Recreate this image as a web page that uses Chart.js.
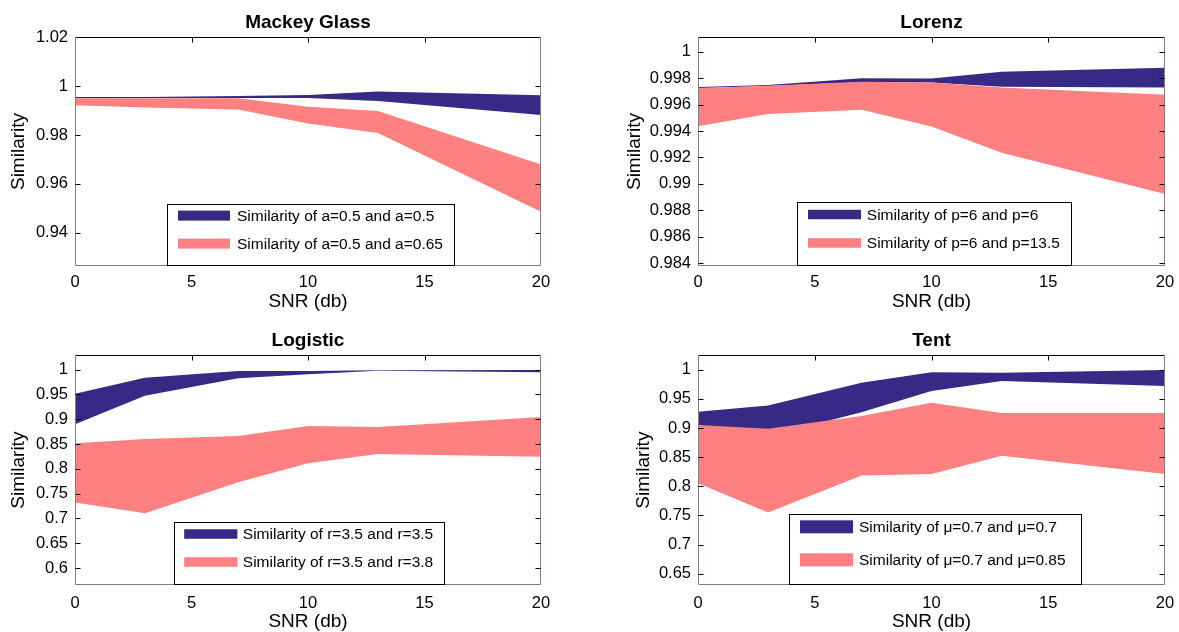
<!DOCTYPE html>
<html>
<head>
<meta charset="utf-8">
<script src="https://cdn.jsdelivr.net/npm/chart.js@4.4.0/dist/chart.umd.min.js"></script>
<style>
  html, body { margin: 0; padding: 0; background: #ffffff; }
  body { width: 1179px; height: 632px; overflow: hidden; position: relative; }
  canvas { position: absolute; }
</style>
</head>
<body>
<canvas id="mackey" width="616" height="316" style="left:0px;top:0px"></canvas>
<canvas id="lorenz" width="663" height="316" style="left:600px;top:0px"></canvas>
<canvas id="logistic" width="616" height="318" style="left:0px;top:316px"></canvas>
<canvas id="tent" width="663" height="318" style="left:600px;top:316px"></canvas>
<script>
// ---------------- data ----------------
const snr = [0, 3, 7, 10, 13, 20];
const xTickValues = [0, 5, 10, 15, 20];

const mackeyBlueUpper = [0.9955, 0.9955, 0.9959, 0.9963, 0.9977, 0.9962];
const mackeyBlueLower = [0.9950, 0.9950, 0.9951, 0.9951, 0.9939, 0.9882];
const mackeyPinkUpper = [0.9950, 0.9949, 0.9950, 0.9915, 0.9898, 0.9679];
const mackeyPinkLower = [0.9921, 0.9912, 0.9904, 0.9847, 0.9808, 0.9486];
const mackeyYTicks = [0.94, 0.96, 0.98, 1, 1.02];
const mackeyYRange = [0.9265, 1.02];
const mackeyLabels = ['Similarity of a=0.5 and a=0.5', 'Similarity of a=0.5 and a=0.65'];

const lorenzBlueUpper = [0.99732, 0.99747, 0.99799, 0.99797, 0.99847, 0.99877];
const lorenzBlueLower = [0.99724, 0.99739, 0.99769, 0.99767, 0.99734, 0.99729];
const lorenzPinkUpper = [0.99722, 0.99742, 0.99772, 0.99767, 0.99729, 0.99674];
const lorenzPinkLower = [0.99436, 0.99529, 0.99561, 0.99433, 0.99235, 0.98924];
const lorenzYTicks = [0.984, 0.986, 0.988, 0.99, 0.992, 0.994, 0.996, 0.998, 1];
const lorenzYRange = [0.9838, 1.0011];
const lorenzLabels = ['Similarity of p=6 and p=6', 'Similarity of p=6 and p=13.5'];

const logisticBlueUpper = [0.9516, 0.9839, 0.9973, 0.9973, 0.9987, 0.9993];
const logisticBlueLower = [0.8898, 0.9476, 0.9825, 0.9906, 0.9980, 0.9946];
const logisticPinkUpper = [0.8515, 0.8602, 0.8663, 0.8864, 0.8844, 0.9046];
const logisticPinkLower = [0.7319, 0.7103, 0.7728, 0.8112, 0.8300, 0.8246];
const logisticYTicks = [0.6, 0.65, 0.7, 0.75, 0.8, 0.85, 0.9, 0.95, 1];
const logisticYRange = [0.5651, 1.0296];
const logisticLabels = ['Similarity of r=3.5 and r=3.5', 'Similarity of r=3.5 and r=3.8'];

const tentBlueUpper = [0.9280, 0.9384, 0.9778, 0.9954, 0.9949, 0.9994];
const tentBlueLower = [0.9050, 0.8860, 0.9270, 0.9635, 0.9806, 0.9720];
const tentPinkUpper = [0.9050, 0.8985, 0.9207, 0.9435, 0.9258, 0.9258];
const tentPinkLower = [0.8054, 0.7551, 0.8185, 0.8213, 0.8522, 0.8213];
const tentYTicks = [0.65, 0.7, 0.75, 0.8, 0.85, 0.9, 0.95, 1];
const tentYRange = [0.6302, 1.0252];
const tentLabels = ['Similarity of \u03bc=0.7 and \u03bc=0.7', 'Similarity of \u03bc=0.7 and \u03bc=0.85'];

// ---------------- style ----------------
const BLUE = 'rgb(54,42,134)';
const PINK = 'rgb(255,128,128)';
const FONT = "'Liberation Sans', Arial, Helvetica, sans-serif";
const SIDE = '#8a7884';

function pts(ys) { return snr.map((x, i) => ({ x: x, y: ys[i] })); }

const framePlugin = {
  id: 'frameAndLegend',
  afterDraw(chart, args, opts) {
    const ctx = chart.ctx;
    const { left, right, top, bottom } = chart.chartArea;
    const xs = chart.scales.x, ys = chart.scales.y;
    ctx.save();
    ctx.lineWidth = 1;
    const line = (x1, y1, x2, y2, c) => {
      ctx.strokeStyle = c; ctx.beginPath(); ctx.moveTo(x1, y1); ctx.lineTo(x2, y2); ctx.stroke();
    };
    const L = Math.round(left) + 0.5, R = Math.round(right) - 0.5;
    const T = Math.round(top) + 0.5, B = Math.round(bottom) - 0.5;
    line(L, T, R, T, '#000');
    line(R, T, R, B, SIDE);
    line(L, B, R, B, SIDE);
    line(L, T, L, B, SIDE);
    const tl = 5;
    xTickValues.forEach(v => {
      const px = Math.round(xs.getPixelForValue(v)) + 0.5;
      if (px > L + 1 && px < R - 1) {
        line(px, T, px, T + tl, '#000');
        line(px, B, px, B - tl, SIDE);
      }
    });
    ys.ticks.forEach(t => {
      const py = Math.round(ys.getPixelForValue(t.value)) + 0.5;
      if (py > T + 1 && py < B - 1) {
        line(L, py, L + tl, py, '#000');
        line(R, py, R - tl, py, '#000');
      }
    });
    // legend
    const lg = opts;
    if (lg && lg.labels) {
      const bx0 = Math.round(left + lg.left) + 0.5, bx1 = Math.round(left + lg.right) + 0.5;
      const by0 = Math.round(bottom - lg.height) + 0.5, by1 = Math.round(bottom) - 0.5;
      ctx.fillStyle = '#fff';
      ctx.fillRect(bx0, by0, bx1 - bx0, by1 - by0);
      ctx.strokeStyle = '#000';
      ctx.strokeRect(bx0, by0, bx1 - bx0, by1 - by0);
      const colors = [BLUE, PINK];
      ctx.font = lg.fontSize + 'px ' + FONT;
      ctx.textBaseline = 'middle';
      ctx.textAlign = 'left';
      lg.labels.forEach((txt, i) => {
        const cy = bottom - lg.rows[i];
        ctx.fillStyle = colors[i];
        ctx.fillRect(left + lg.swX, cy - lg.swH / 2, lg.swW, lg.swH);
        ctx.fillStyle = '#000';
        ctx.fillText(txt, left + lg.textX, cy + 1);
      });
    }
    ctx.restore();
  }
};

function makeChart(id, cfg) {
  const ds = [
    { label: cfg.labels[1], data: pts(cfg.pinkUpper), fill: '+1', backgroundColor: PINK },
    { label: cfg.labels[1] + ' (lower)', data: pts(cfg.pinkLower), fill: false, backgroundColor: PINK },
    { label: cfg.labels[0], data: pts(cfg.blueUpper), fill: '+1', backgroundColor: BLUE },
    { label: cfg.labels[0] + ' (lower)', data: pts(cfg.blueLower), fill: false, backgroundColor: BLUE }
  ].map(d => Object.assign(d, {
    borderColor: 'rgba(0,0,0,0)', borderWidth: 1, pointRadius: 0, pointHoverRadius: 0, tension: 0
  }));

  return new Chart(document.getElementById(id), {
    type: 'line',
    data: { datasets: ds },
    options: {
      responsive: false,
      animation: false,
      events: [],
      layout: { padding: { left: cfg.padLeft, right: cfg.padRight, top: 0, bottom: 0 } },
      plugins: {
        legend: { display: false },
        tooltip: { enabled: false },
        title: {
          display: true, text: cfg.title, color: '#000', fullSize: false,
          font: { family: FONT, size: 19, weight: 'bold' },
          padding: { top: cfg.titleTop, bottom: cfg.titleBottom }
        },
        frameAndLegend: cfg.legend
      },
      scales: {
        x: {
          type: 'linear', min: 0, max: 20,
          afterBuildTicks: s => { s.ticks = xTickValues.map(v => ({ value: v })); },
          afterFit: s => { s.height = cfg.xHeight; },
          grid: { display: false, drawTicks: false },
          border: { display: false },
          ticks: { color: '#000', font: { family: FONT, size: 16.5 }, padding: cfg.xTickPad, maxRotation: 0 },
          title: { display: true, text: 'SNR (db)', color: '#000', font: { family: FONT, size: 19 }, padding: { top: 0, bottom: cfg.xTitleBottom } }
        },
        y: {
          type: 'linear', min: cfg.yRange[0], max: cfg.yRange[1],
          afterBuildTicks: s => { s.ticks = cfg.yTicks.map(v => ({ value: v })); },
          afterFit: s => { s.width = cfg.yWidth; },
          grid: { display: false, drawTicks: false },
          border: { display: false },
          ticks: {
            color: '#000', font: { family: FONT, size: 16.5 }, padding: 7,
            callback: v => String(parseFloat(Number(v).toFixed(4)))
          },
          title: { display: true, text: 'Similarity', color: '#000', font: { family: FONT, size: 19 }, padding: { top: 0, bottom: 0 } }
        }
      }
    },
    plugins: [framePlugin]
  });
}

const topRow = { titleTop: 11.3, titleBottom: 2.9, xHeight: 50, xTickPad: 7, xTitleBottom: 2.9 };
const botRow = { titleTop: 13.3, titleBottom: 2.9, xHeight: 48.7, xTickPad: 7.8, xTitleBottom: 0.9 };

makeChart('mackey', Object.assign({
  title: 'Mackey Glass', labels: mackeyLabels,
  blueUpper: mackeyBlueUpper, blueLower: mackeyBlueLower, pinkUpper: mackeyPinkUpper, pinkLower: mackeyPinkLower,
  yTicks: mackeyYTicks, yRange: mackeyYRange,
  padLeft: 7.2, yWidth: 67.8, padRight: 75,
  legend: { labels: mackeyLabels, left: 92, right: 379, height: 62, swX: 103, swW: 52, swH: 10, textX: 162, rows: [50.4, 22.4], fontSize: 15.5 }
}, topRow));

makeChart('lorenz', Object.assign({
  title: 'Lorenz', labels: lorenzLabels,
  blueUpper: lorenzBlueUpper, blueLower: lorenzBlueLower, pinkUpper: lorenzPinkUpper, pinkLower: lorenzPinkLower,
  yTicks: lorenzYTicks, yRange: lorenzYRange,
  padLeft: 23.6, yWidth: 74.4, padRight: 98,
  legend: { labels: lorenzLabels, left: 99.4, right: 372.8, height: 63.7, swX: 110, swW: 53, swH: 9.5, textX: 168.8, rows: [51.5, 23], fontSize: 15.5 }
}, topRow));

makeChart('logistic', Object.assign({
  title: 'Logistic', labels: logisticLabels,
  blueUpper: logisticBlueUpper, blueLower: logisticBlueLower, pinkUpper: logisticPinkUpper, pinkLower: logisticPinkLower,
  yTicks: logisticYTicks, yRange: logisticYRange,
  padLeft: 7.2, yWidth: 67.8, padRight: 75,
  legend: { labels: logisticLabels, left: 98.5, right: 369, height: 63, swX: 109.2, swW: 53.2, swH: 9.5, textX: 167.8, rows: [51.3, 23.3], fontSize: 15.5 }
}, botRow));

makeChart('tent', Object.assign({
  title: 'Tent', labels: tentLabels,
  blueUpper: tentBlueUpper, blueLower: tentBlueLower, pinkUpper: tentPinkUpper, pinkLower: tentPinkLower,
  yTicks: tentYTicks, yRange: tentYRange,
  padLeft: 32.6, yWidth: 65.4, padRight: 98,
  legend: { labels: tentLabels, left: 91.2, right: 383.2, height: 71.2, swX: 102, swW: 53, swH: 13, textX: 161, rows: [58.5, 25.5], fontSize: 15.5 }
}, botRow));
</script>
</body>
</html>
